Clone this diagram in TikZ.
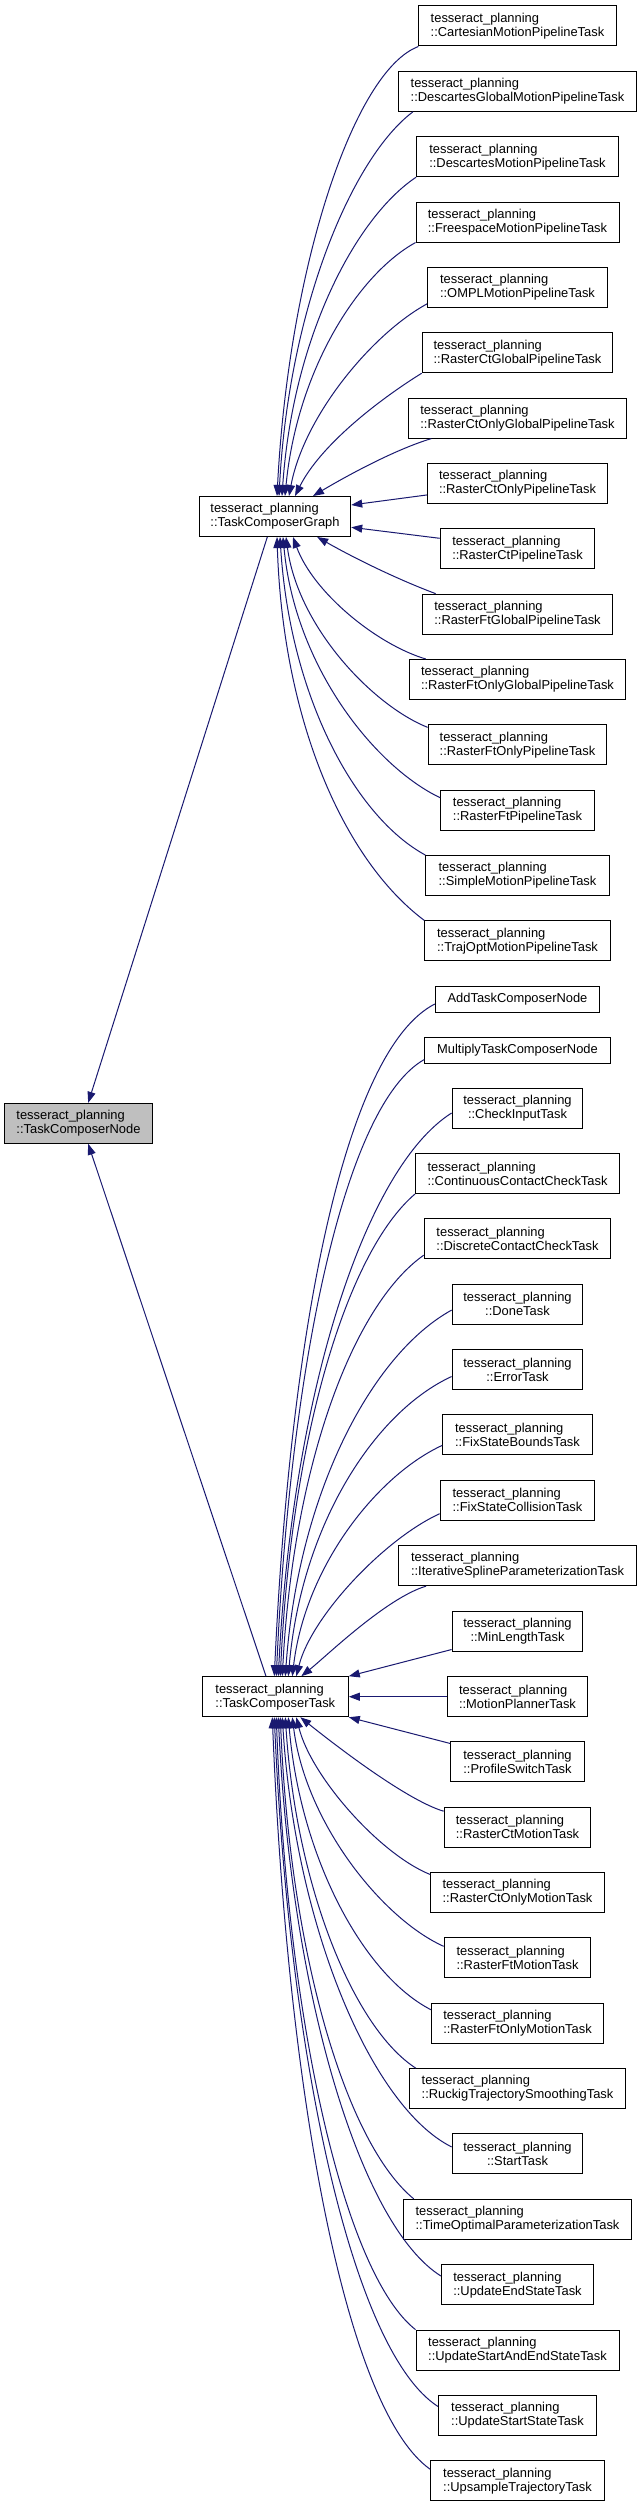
\documentclass[tikz,border=0pt]{standalone}
\usepackage{fontspec}
\setmainfont{Liberation Sans}
\usetikzlibrary{arrows.meta}
\definecolor{edgec}{HTML}{191970}
\definecolor{nodegray}{HTML}{BFBFBF}
\newcommand\ttp{tesseract\_planning}
\tikzset{
  box/.style={draw=black, line width=1pt, fill=white, minimum height=40pt, inner xsep=2pt, inner ysep=0pt, font=\fontsize{12.9}{14}\selectfont, text=black},
  boxl/.style={box, align=left},
  boxc/.style={box, align=center},
  boxone/.style={box, align=center, minimum height=26pt},
  inhedge/.style={draw=edgec, line width=1pt, -{Triangle[length=11pt,width=8pt]}}
}
\begin{document}
\begin{tikzpicture}[x=1pt,y=-1pt]
\fill[white] (0,0) rectangle (643,2507);
\useasboundingbox (0,0) rectangle (643,2507);
% left column
\node[boxl, fill=nodegray, minimum width=147.2pt] (n) at (78.5,1123.3) {\ttp\\::TaskComposerNode};
\node[boxl, minimum width=151.4pt] (g) at (275,516.5) {\ttp\\::TaskComposerGraph};
\node[boxl, minimum width=146pt] (t) at (275.3,1696.7) {\ttp\\::TaskComposerTask};
% graph children
\node[boxl, minimum width=197.2pt] (c1) at (517.5,26) {\ttp\\::CartesianMotionPipelineTask};
\node[boxl, minimum width=238.2pt] (c2) at (517.5,91.35) {\ttp\\::DescartesGlobalMotionPipelineTask};
\node[boxl, minimum width=201.8pt] (c3) at (517.5,156.7) {\ttp\\::DescartesMotionPipelineTask};
\node[boxl, minimum width=203pt] (c4) at (517.5,222.05) {\ttp\\::FreespaceMotionPipelineTask};
\node[boxl, minimum width=180pt] (c5) at (517.5,287.4) {\ttp\\::OMPLMotionPipelineTask};
\node[boxl, minimum width=190.7pt] (c6) at (517.5,352.75) {\ttp\\::RasterCtGlobalPipelineTask};
\node[boxl, minimum width=217.3pt] (c7) at (517.5,418.1) {\ttp\\::RasterCtOnlyGlobalPipelineTask};
\node[boxl, minimum width=180pt] (c8) at (517.5,483.45) {\ttp\\::RasterCtOnlyPipelineTask};
\node[boxl, minimum width=154.6pt] (c9) at (517.5,548.8) {\ttp\\::RasterCtPipelineTask};
\node[boxl, minimum width=190.7pt] (c10) at (517.5,614.15) {\ttp\\::RasterFtGlobalPipelineTask};
\node[boxl, minimum width=216.5pt] (c11) at (517.5,679.5) {\ttp\\::RasterFtOnlyGlobalPipelineTask};
\node[boxl, minimum width=178.8pt] (c12) at (517.5,744.85) {\ttp\\::RasterFtOnlyPipelineTask};
\node[boxl, minimum width=153.8pt] (c13) at (517.5,810.2) {\ttp\\::RasterFtPipelineTask};
\node[boxl, minimum width=183.3pt] (c14) at (517.5,875.55) {\ttp\\::SimpleMotionPipelineTask};
\node[boxl, minimum width=185.4pt] (c15) at (517.5,940.9) {\ttp\\::TrajOptMotionPipelineTask};
% task children
\node[boxone, minimum width=164.4pt] (add) at (517.5,999) {AddTaskComposerNode};
\node[boxone, minimum width=185.4pt] (mul) at (517.5,1050) {MultiplyTaskComposerNode};
\node[boxc, minimum width=130.8pt] (ci) at (517.5,1108) {\ttp\\::CheckInputTask};
\node[boxl, minimum width=203.8pt] (cc) at (517.5,1173.4) {\ttp\\::ContinuousContactCheckTask};
\node[boxl, minimum width=186.6pt] (dc) at (517.5,1238.7) {\ttp\\::DiscreteContactCheckTask};
\node[boxc, minimum width=130.8pt] (done) at (517.5,1304.1) {\ttp\\::DoneTask};
\node[boxc, minimum width=130.8pt] (err) at (517.5,1369.5) {\ttp\\::ErrorTask};
\node[boxl, minimum width=149.7pt] (fsb) at (517.5,1434.9) {\ttp\\::FixStateBoundsTask};
\node[boxl, minimum width=154.6pt] (fsc) at (517.5,1500.2) {\ttp\\::FixStateCollisionTask};
\node[boxl, minimum width=237.8pt] (isp) at (517.5,1565.6) {\ttp\\::IterativeSplineParameterizationTask};
\node[boxc, minimum width=130.8pt] (ml) at (517.5,1631.0) {\ttp\\::MinLengthTask};
\node[boxl, minimum width=139.8pt] (mp) at (517.5,1696.7) {\ttp\\::MotionPlannerTask};
\node[boxl, minimum width=133.3pt] (ps) at (517.5,1761.7) {\ttp\\::ProfileSwitchTask};
\node[boxl, minimum width=146.8pt] (rcm) at (517.5,1827.1) {\ttp\\::RasterCtMotionTask};
\node[boxl, minimum width=173.5pt] (rcom) at (517.5,1892.4) {\ttp\\::RasterCtOnlyMotionTask};
\node[boxl, minimum width=146.8pt] (rfm) at (517.5,1957.8) {\ttp\\::RasterFtMotionTask};
\node[boxl, minimum width=172.2pt] (rfom) at (517.5,2023.2) {\ttp\\::RasterFtOnlyMotionTask};
\node[boxl, minimum width=216.5pt] (ru) at (517.5,2088.6) {\ttp\\::RuckigTrajectorySmoothingTask};
\node[boxc, minimum width=130.8pt] (st) at (517.5,2153.9) {\ttp\\::StartTask};
\node[boxl, minimum width=228pt] (tos) at (517.5,2219.3) {\ttp\\::TimeOptimalParameterizationTask};
\node[boxl, minimum width=152.1pt] (ue) at (517.5,2284.7) {\ttp\\::UpdateEndStateTask};
\node[boxl, minimum width=203pt] (usae) at (517.5,2350.1) {\ttp\\::UpdateStartAndEndStateTask};
\node[boxl, minimum width=158.3pt] (uss) at (517.5,2415.4) {\ttp\\::UpdateStartStateTask};
\node[boxl, minimum width=173.5pt] (ups) at (517.5,2480.8) {\ttp\\::UpsampleTrajectoryTask};
% edges to TaskComposerNode
\draw[inhedge] ([xshift=-7.7pt]g.south) -- ([xshift=9.7pt]n.north);
\draw[inhedge] ([xshift=-9.3pt]t.north) -- ([xshift=9.7pt]n.south);
% edges to TaskComposerGraph
\draw[inhedge] (c1.south west) .. controls +(-64,24) and +(12,-231) .. ([xshift=2pt]g.north);
\draw[inhedge] ([xshift=15pt]c2.south west) .. controls +(-60,45) and +(10,-190) .. ([xshift=4pt]g.north);
\draw[inhedge] (c3.south west) .. controls +(-60,40) and +(11,-160) .. ([xshift=7pt]g.north);
\draw[inhedge] (c4.south west) .. controls +(-58,32) and +(12,-125) .. ([xshift=10pt]g.north);
\draw[inhedge] ([yshift=4pt]c5.south west) .. controls +(-55,30) and +(15,-80) .. ([xshift=14pt]g.north);
\draw[inhedge] (c6.south west) .. controls +(-45,28) and +(25,-50) .. ([xshift=20pt]g.north);
\draw[inhedge] ([xshift=23pt]c7.south west) .. controls +(-40,12) and +(25,-15) .. ([xshift=38pt]g.north);
\draw[inhedge] ([yshift=-11.5pt]c8.west) -- ([yshift=11.5pt]g.east);
\draw[inhedge] ([yshift=10.5pt]c9.west) -- ([yshift=-10.8pt]g.east);
\draw[inhedge] ([xshift=14pt]c10.north west) .. controls +(-40,-15) and +(35,20) .. ([xshift=-34pt]g.south east);
\draw[inhedge] ([xshift=17pt]c11.north west) .. controls +(-50,-15) and +(20,55) .. ([xshift=18pt]g.south);
\draw[inhedge] ([yshift=-3pt]c12.north west) .. controls +(-55,-22) and +(12,90) .. ([xshift=11pt]g.south);
\draw[inhedge] ([yshift=-8pt]c13.north west) .. controls +(-65,-31) and +(12,130) .. ([xshift=8pt]g.south);
\draw[inhedge] (c14.north west) .. controls +(-70,-38) and +(10,160) .. ([xshift=5pt]g.south);
\draw[inhedge] (c15.north west) .. controls +(-80,-60) and +(6,185) .. ([xshift=2pt]g.south);
% edges to TaskComposerTask
\draw[inhedge] ([yshift=-5pt]add.west) .. controls +(-90,46) and +(16,-347) .. ([xshift=-1pt]t.north);
\draw[inhedge] ([yshift=4pt]mul.south west) .. controls +(-80,45) and +(14,-310) .. ([xshift=1pt]t.north);
\draw[inhedge] ([yshift=-5pt]ci.west) .. controls +(-87,55) and +(14,-282) .. ([xshift=3pt]t.north);
\draw[inhedge] (cc.south west) .. controls +(-68,58) and +(11,-240) .. ([xshift=5pt]t.north);
\draw[inhedge] ([yshift=4pt]dc.south west) .. controls +(-71,50) and +(11,-211) .. ([xshift=7pt]t.north);
\draw[inhedge] ([yshift=-6pt]done.west) .. controls +(-80,44) and +(13,-183) .. ([xshift=10pt]t.north);
\draw[inhedge] ([yshift=-7pt]err.west) .. controls +(-78,36) and +(13,-150) .. ([xshift=13pt]t.north);
\draw[inhedge] ([yshift=10pt]fsb.south west) .. controls +(-65,30) and +(13,-110) .. ([xshift=17pt]t.north);
\draw[inhedge] ([yshift=7pt]fsc.south west) .. controls +(-55,25) and +(15,-60) .. ([xshift=21pt]t.north);
\draw[inhedge] ([xshift=28pt]isp.south west) .. controls +(-40,12) and +(25,-20) .. ([xshift=26pt]t.north);
\draw[inhedge] ([yshift=2pt]ml.south west) -- (t.north east);
\draw[inhedge] (mp.west) -- (t.east);
\draw[inhedge] ([yshift=-2.3pt]ps.north west) -- (t.south east);
\draw[inhedge] ([yshift=-4.6pt]rcm.north west) .. controls +(-40,-12) and +(25,20) .. ([xshift=25pt]t.south);
\draw[inhedge] ([yshift=-2.6pt]rcom.north west) .. controls +(-50,-20) and +(15,60) .. ([xshift=21pt]t.south);
\draw[inhedge] ([yshift=-9pt]rfm.north west) .. controls +(-62,-28) and +(13,105) .. ([xshift=17pt]t.south);
\draw[inhedge] ([yshift=-7pt]rfom.north west) .. controls +(-68,-35) and +(12,140) .. ([xshift=13pt]t.south);
\draw[inhedge] ([xshift=7pt]ru.north west) .. controls +(-62,-40) and +(11,170) .. ([xshift=10pt]t.south);
\draw[inhedge] ([yshift=7pt]st.west) .. controls +(-80,-40) and +(13,210) .. ([xshift=7pt]t.south);
\draw[inhedge] ([xshift=10.7pt]tos.north west) .. controls +(-67,-55) and +(10,240) .. ([xshift=5pt]t.south);
\draw[inhedge] ([yshift=8.7pt]ue.west) .. controls +(-80,-50) and +(13,280) .. ([xshift=3pt]t.south);
\draw[inhedge] (usae.north west) .. controls +(-70,-55) and +(11,310) .. ([xshift=1pt]t.south);
\draw[inhedge] ([yshift=9pt]uss.west) .. controls +(-85,-55) and +(15,345) .. ([xshift=-1pt]t.south);
\draw[inhedge] ([yshift=-9pt]ups.north west) .. controls +(-85,-60) and +(15,375) .. ([xshift=-3pt]t.south);
\end{tikzpicture}
\end{document}
